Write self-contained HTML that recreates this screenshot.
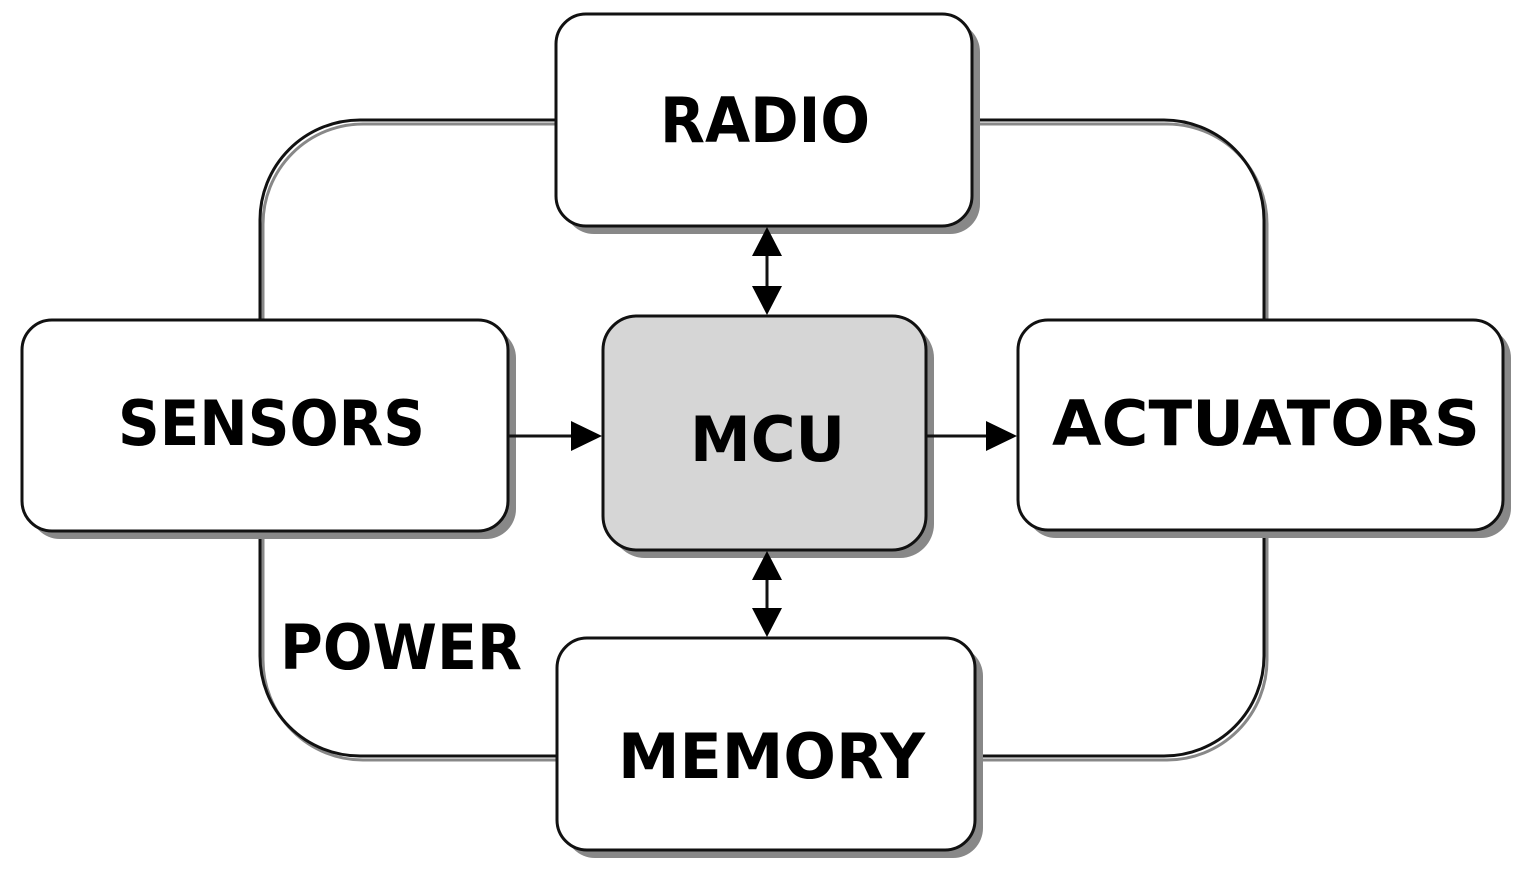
<!DOCTYPE html>
<html><head><style>html,body{margin:0;padding:0;background:#fff}svg{display:block}</style></head>
<body>
<svg width="1527" height="872" viewBox="0 0 1527 872" xmlns="http://www.w3.org/2000/svg">
<defs>
<marker id="a" markerWidth="10" markerHeight="10" refX="9" refY="5" orient="auto" markerUnits="userSpaceOnUse" viewBox="0 0 10 10">
</marker>
</defs>
<g fill="none" stroke-width="3">
<rect x="263" y="124" width="1004" height="636" rx="100" stroke="#888"/>
<rect x="260" y="120" width="1004" height="636" rx="100" stroke="#111"/>
</g>
<g stroke="#111" stroke-width="3">
<rect x="564" y="22" width="416" height="212" rx="30" fill="#888" stroke="none"/>
<rect x="556" y="14" width="416" height="212" rx="30" fill="#fff"/>
<rect x="30" y="328" width="486" height="211" rx="30" fill="#888" stroke="none"/>
<rect x="22" y="320" width="486" height="211" rx="30" fill="#fff"/>
<rect x="1026" y="328" width="485" height="210" rx="30" fill="#888" stroke="none"/>
<rect x="1018" y="320" width="485" height="210" rx="30" fill="#fff"/>
<rect x="565" y="646" width="418" height="212" rx="30" fill="#888" stroke="none"/>
<rect x="557" y="638" width="418" height="212" rx="30" fill="#fff"/>
<rect x="611" y="324" width="323" height="234" rx="34" fill="#888" stroke="none"/>
<rect x="603" y="316" width="323" height="234" rx="34" fill="#d6d6d6"/>
<line x1="767" y1="250" x2="767" y2="292"/>
<line x1="767" y1="574" x2="767" y2="614"/>
<line x1="508" y1="436" x2="575" y2="436"/>
<line x1="926" y1="436" x2="990" y2="436"/>
</g>
<g fill="#000">
<polygon points="767,227 752,256 782,256"/>
<polygon points="767,315 752,286 782,286"/>
<polygon points="767,551 752,580 782,580"/>
<polygon points="767,637 752,608 782,608"/>
<polygon points="602,436 571,421 571,451"/>
<polygon points="1017,436 986,421 986,451"/>
</g>
<g font-family="DejaVu Sans, Liberation Sans, sans-serif" font-weight="bold" font-size="62" fill="#000" lengthAdjust="spacingAndGlyphs">
<text x="660" y="142" textLength="210" lengthAdjust="spacingAndGlyphs">RADIO</text>
<text x="118" y="445" textLength="307" lengthAdjust="spacingAndGlyphs">SENSORS</text>
<text x="690" y="461" textLength="155" lengthAdjust="spacingAndGlyphs">MCU</text>
<text x="1052" y="445" textLength="428" lengthAdjust="spacingAndGlyphs">ACTUATORS</text>
<text x="618" y="778" textLength="307" lengthAdjust="spacingAndGlyphs">MEMORY</text>
<text x="280" y="669" textLength="242" lengthAdjust="spacingAndGlyphs">POWER</text>
</g>
</svg>
</body></html>
